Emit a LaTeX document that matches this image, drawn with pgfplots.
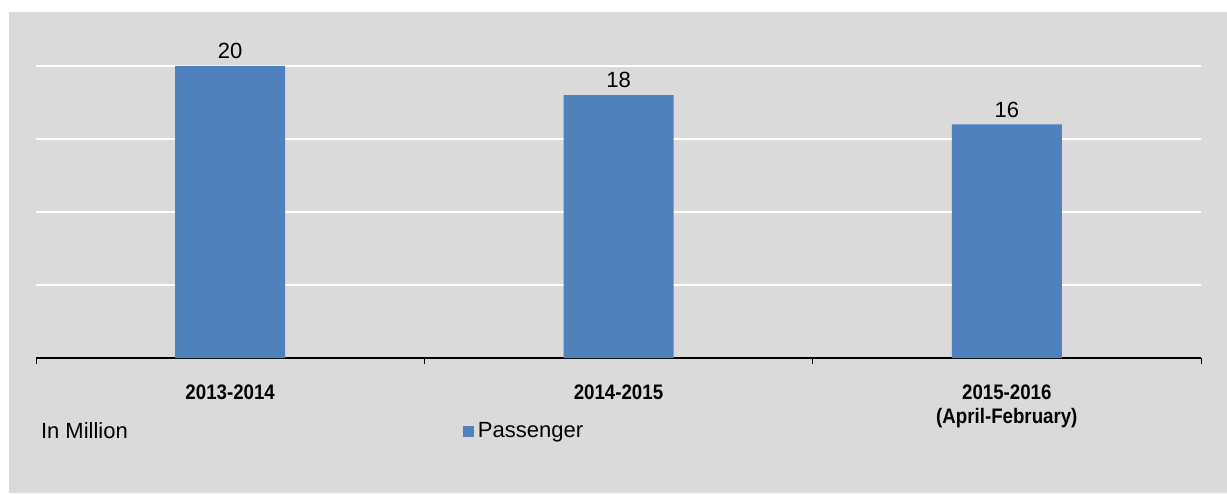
\documentclass[border=0pt]{standalone}
\usepackage{fontspec}
\setmainfont{Liberation Sans}
\newfontfamily\narrowfont[FakeStretch=0.89]{Liberation Sans}
\usepackage{pgfplots}
\pgfplotsset{compat=1.18}
\definecolor{bg}{HTML}{DADADA}
\definecolor{barblue}{HTML}{4F81BD}
\begin{document}
\begin{tikzpicture}[x=1pt,y=1pt]
\fill[white] (0,0) rectangle (613.5,246.5);
\fill[bg] (4.25,0) rectangle (613.5,240.5);
\path[use as bounding box] (0,0) rectangle (613.5,246.5);
\begin{axis}[
  at={(18pt,67.5pt)}, anchor=south west,
  scale only axis, width=582.5pt, height=146pt,
  xmin=-0.5, xmax=2.5, ymin=0, ymax=20,
  /pgf/number format/assume math mode=true,
  axis x line*=bottom, axis y line*=left,
  y axis line style={draw=none},
  x axis line style={black, line width=0.6pt},
  ytick={5,10,15,20}, yticklabels={}, ytick style={draw=none},
  ymajorgrids, grid style={white, line width=1pt},
  xtick={0,1,2}, major tick length=0pt,
  minor xtick={-0.5,0.5,1.5,2.5}, minor tick length=3pt, tick align=outside,
  minor tick style={black, line width=0.5pt},
  xticklabels={2013-2014,2014-2015,{2015-2016\\(April-February)}},
  xticklabel style={align=center, font=\narrowfont\bfseries\fontsize{10.5}{12}\selectfont, yshift=-10pt},
  clip=false,
  legend style={at={(0.361,-0.25)}, anchor=west, draw=none, fill=none, font=\fontsize{11}{13}\selectfont},
  nodes near coords, nodes near coords style={font=\fontsize{11}{13}\selectfont, black},
]
\addplot[ybar, bar width=55pt, fill=barblue, draw=none,
  legend image code/.code={\fill[barblue] (0pt,-2.75pt) rectangle (5.5pt,2.75pt);}]
  coordinates {(0,20) (1,18) (2,16)};
\addlegendentry{Passenger}
\node[anchor=west, inner sep=0pt, font=\fontsize{11}{13}\selectfont] at (axis description cs:0.004,-0.25) {In Million};
\end{axis}
\end{tikzpicture}
\end{document}
